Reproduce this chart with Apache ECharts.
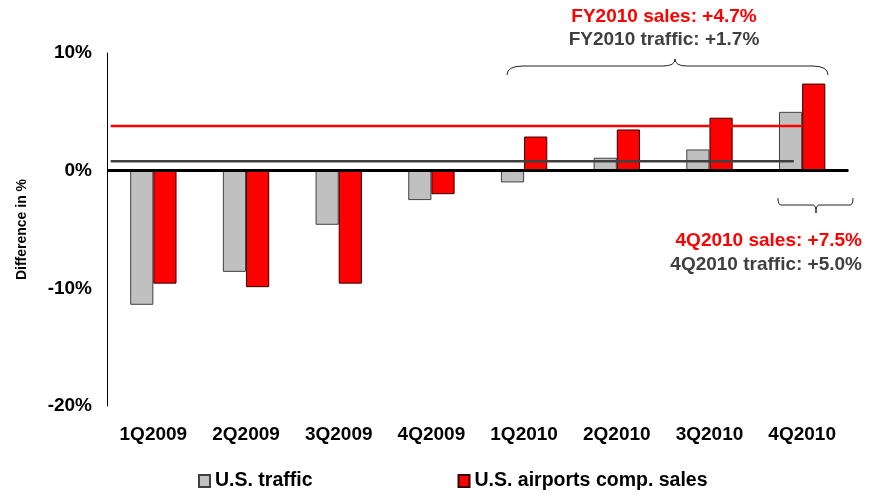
<!DOCTYPE html>
<html>
<head>
<meta charset="utf-8">
<script src="https://cdn.jsdelivr.net/npm/echarts@6/dist/echarts.min.js"></script>
<style>
html,body{margin:0;padding:0;background:#fff;}
#main{width:869px;height:495px;}
</style>
</head>
<body>
<div id="main"></div>
<script>
// ---- data ----
const categories = ['1Q2009', '2Q2009', '3Q2009', '4Q2009', '1Q2010', '2Q2010', '3Q2010', '4Q2010'];
const trafficValues = [-11.4, -8.6, -4.6, -2.5, -1.0, 1.1, 1.8, 5.0];
const salesValues = [-9.6, -9.9, -9.6, -2.0, 2.9, 3.5, 4.5, 7.4];
const seriesNames = ['U.S. traffic', 'U.S. airports comp. sales'];
const yMin = -20, yMax = 10, yInterval = 10;
// reference lines: [start position, end position] in category units, and level in %
const salesLineSpan = [0.04, 7.5];
const salesLineLevel = 3.8;
const trafficLineSpan = [0.04, 7.41];
const trafficLineLevel = 0.8;
const fyTexts = ['FY2010 sales: +4.7%', 'FY2010 traffic: +1.7%'];
const q4Texts = ['4Q2010 sales: +7.5%', '4Q2010 traffic: +5.0%'];

const FONT = '"Liberation Sans", Arial, sans-serif';
const chart = echarts.init(document.getElementById('main'), null, {renderer: 'canvas'});

const braceStyle = {fill: null, stroke: '#222', lineWidth: 1};
function curve(x1, y1, cx, cy, x2, y2) {
  return {type: 'bezierCurve', shape: {x1: x1, y1: y1, cpx1: cx, cpy1: cy, x2: x2, y2: y2}, style: braceStyle};
}
function seg(x1, y1, x2, y2) {
  return {type: 'line', shape: {x1: x1, y1: y1, x2: x2, y2: y2}, style: braceStyle};
}
function brace(x0, x1, xm, yEnd, yFlat, yTip, r, rt) {
  return [
    curve(x0, yEnd, x0, yFlat, x0 + r, yFlat),
    seg(x0 + r, yFlat, xm - rt, yFlat),
    curve(xm - rt, yFlat, xm, yFlat, xm, yTip),
    curve(xm, yTip, xm, yFlat, xm + rt, yFlat),
    seg(xm + rt, yFlat, x1 - r, yFlat),
    curve(x1 - r, yFlat, x1, yFlat, x1, yEnd)
  ];
}

const option = {
  backgroundColor: '#fff',
  animation: false,
  textStyle: {fontFamily: FONT},
  grid: {left: 107, right: 20.5, top: 53, bottom: 89, containLabel: false},
  legend: {
    data: seriesNames,
    left: 198, top: 471,
    padding: 0,
    itemWidth: 11, itemHeight: 12, itemGap: 145,
    icon: 'rect',
    textStyle: {fontFamily: FONT, fontSize: 19.5, fontWeight: 'bold', color: '#000'}
  },
  xAxis: [{
    type: 'category',
    data: categories,
    position: 'bottom',
    axisLine: {show: false, onZero: false},
    axisTick: {show: false},
    splitLine: {show: false},
    axisLabel: {margin: 19, fontFamily: FONT, fontSize: 19, fontWeight: 'bold', color: '#000', interval: 0}
  }, {
    type: 'value',
    min: 0, max: categories.length,
    show: false
  }],
  yAxis: {
    type: 'value',
    min: yMin, max: yMax, interval: yInterval,
    name: 'Difference in %',
    nameLocation: 'middle',
    nameRotate: 90,
    nameGap: 78,
    nameTextStyle: {fontFamily: FONT, fontSize: 14, fontWeight: 'bold', color: '#000'},
    axisLine: {show: true, onZero: false, lineStyle: {color: '#000', width: 1}},
    axisTick: {show: false},
    splitLine: {show: false},
    axisLabel: {formatter: '{value}%', margin: 15, fontFamily: FONT, fontSize: 19, fontWeight: 'bold', color: '#000'}
  },
  series: [{
    name: seriesNames[0],
    type: 'bar',
    data: trafficValues,
    barWidth: '25%',
    barGap: '0%',
    itemStyle: {color: '#C0C0C0', borderColor: '#404040', borderWidth: 1},
    z: 2
  }, {
    name: seriesNames[1],
    type: 'bar',
    data: salesValues,
    barWidth: '25%',
    barGap: '0%',
    itemStyle: {color: '#FF0000', borderColor: '#300000', borderWidth: 1},
    z: 2,
    markLine: {
      silent: true,
      symbol: ['none', 'none'],
      label: {show: false},
      lineStyle: {color: '#000', width: 3, type: 'solid'},
      data: [{yAxis: 0}],
      z: 5
    }
  }, {
    type: 'line',
    xAxisIndex: 1,
    data: salesLineSpan.map(x => [x, salesLineLevel]),
    symbol: 'none',
    lineStyle: {color: '#FF0000', width: 2.5},
    silent: true,
    z: 4
  }, {
    type: 'line',
    xAxisIndex: 1,
    data: trafficLineSpan.map(x => [x, trafficLineLevel]),
    symbol: 'none',
    lineStyle: {color: '#404040', width: 2.5},
    silent: true,
    z: 4
  }],
  graphic: [].concat(
    brace(507, 828, 675, 75, 66, 59, 16, 12),
    brace(778, 853, 816, 198, 205, 213, 3, 3),
    [
      {type: 'text', x: 664, y: 16.5, style: {text: fyTexts[0], fill: '#FF0000', font: 'bold 19px ' + FONT, textAlign: 'center', textVerticalAlign: 'middle'}},
      {type: 'text', x: 664, y: 40, style: {text: fyTexts[1], fill: '#404040', font: 'bold 19px ' + FONT, textAlign: 'center', textVerticalAlign: 'middle'}},
      {type: 'text', x: 862, y: 241, style: {text: q4Texts[0], fill: '#FF0000', font: 'bold 19px ' + FONT, textAlign: 'right', textVerticalAlign: 'middle'}},
      {type: 'text', x: 862, y: 265, style: {text: q4Texts[1], fill: '#404040', font: 'bold 19px ' + FONT, textAlign: 'right', textVerticalAlign: 'middle'}}
    ]
  )
};
chart.setOption(option);
</script>
</body>
</html>
